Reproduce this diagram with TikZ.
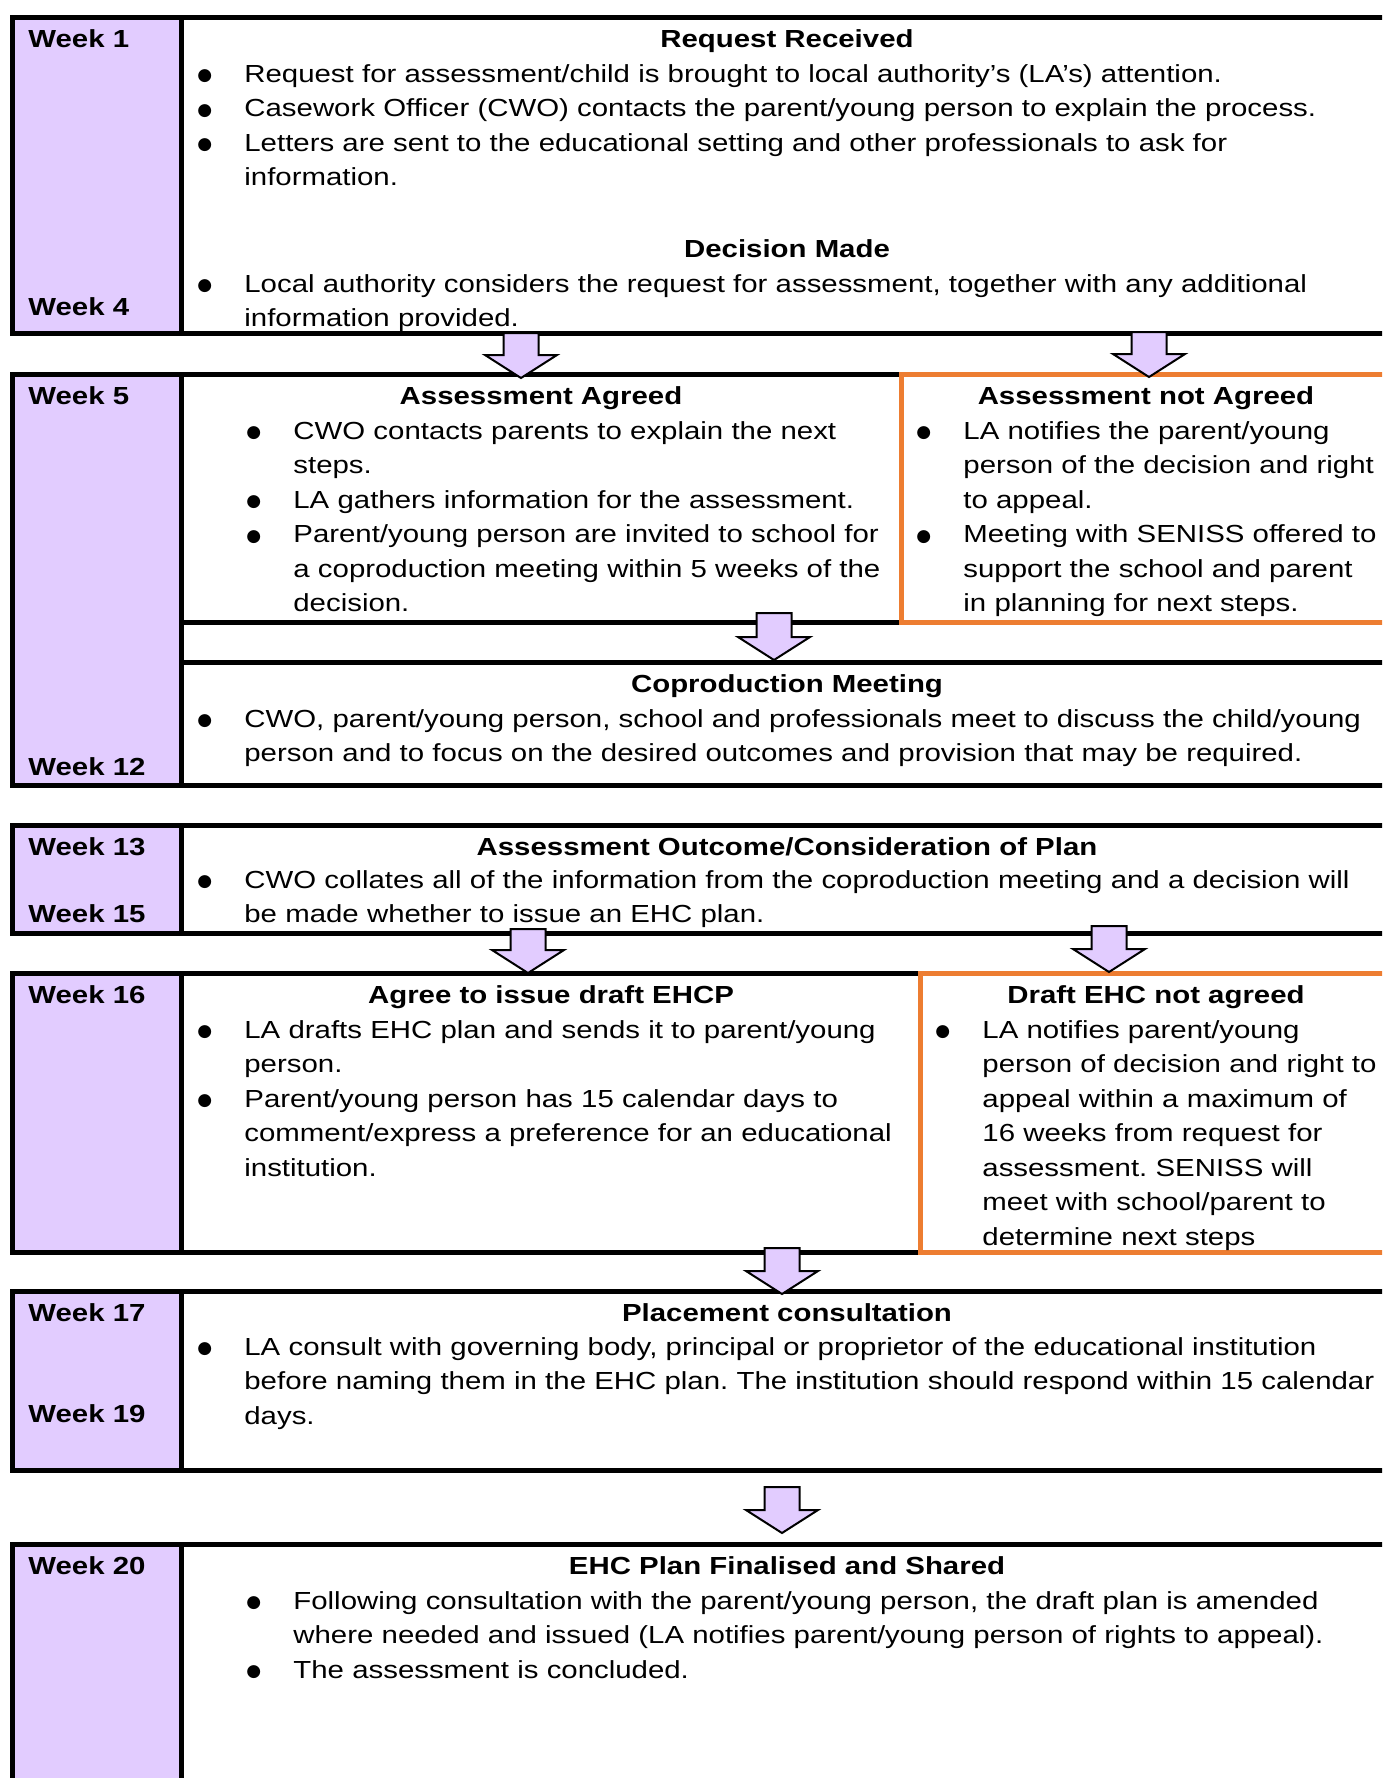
\documentclass[tikz,border=0pt]{standalone}
\usepackage{fontspec}
\setmainfont{Liberation Sans}[FakeStretch=1.19]
\newfontfamily\dotfont{DejaVu Sans}
\usetikzlibrary{calc}
\frenchspacing

\definecolor{weekfill}{RGB}{226,204,255}
\definecolor{ehcorange}{RGB}{237,125,49}
\newcommand\ehcfont{\fontsize{12.35pt}{17.25pt}\selectfont}
\newcommand\bulletmark{\raisebox{0.6pt}{\dotfont\fontsize{8.5pt}{8.5pt}\selectfont ●}}
\newcommand\bul{\noindent\hangindent=23.5pt\hangafter=1\hbox to 23.5pt{\bulletmark\hss}}
\newcommand\nl{\hfil\break}
\newcommand\ehcarrow[2]{%
  \draw[arrowbox] let \p1=(#1), \p2=(#2) in
    (\x1-8.75pt,\y1) -- (\x1+8.75pt,\y1) -- (\x1+8.75pt,\y2+11.5pt) -- (\x1+18pt,\y2+11.5pt)
    -- (\x2,\y2) -- (\x1-18pt,\y2+11.5pt) -- (\x1-8.75pt,\y2+11.5pt) -- cycle;}

\tikzset{
  week/.style={anchor=base west, font=\ehcfont\bfseries, inner sep=0pt},
  head/.style={anchor=base, font=\ehcfont\bfseries, inner sep=0pt},
  items/.style={anchor=base west, font=\ehcfont, inner sep=0pt, text width=620pt, align=left},
  frame/.style={line width=2.5pt},
  sideframe/.style={line width=2.5pt, draw=ehcorange},
  arrowbox/.style={draw, line width=1pt, fill=weekfill, line join=miter},
}

\begin{document}
\begin{tikzpicture}[x=0.5pt, y=-0.5pt]
    \useasboundingbox (0,0) rectangle (1382,1778);
    \clip (0,0) rectangle (1382,1778);

    % week 1 to 4
    \fill[weekfill] (12,17) rectangle (181,333);
    \draw[frame] (1400,17) -- (12,17) -- (12,333) -- (1400,333);
    \draw[frame] (181,17) -- (181,333);
    \node[week] (w1) at (28,47) {Week 1};
    \node[week] (w4) at (28,315) {Week 4};
    \node[head] (hreq) at (787,47) {Request Received};
    \node[items] (treq) at (197,82) {\bul Request for assessment/child is brought to local authority’s (LA’s) attention.\par
        \bul Casework Officer (CWO) contacts the parent/young person to explain the process.\par
        \bul Letters are sent to the educational setting and other professionals to ask for\nl information.\par};
    \node[head] (hdec) at (787,257) {Decision Made};
    \node[items] (tdec) at (197,292) {\bul Local authority considers the request for assessment, together with any additional\nl information provided.\par};

    % week 5 to 12
    \fill[weekfill] (12,374) rectangle (181,785);
    \draw[frame] (901,374) -- (12,374) -- (12,785) -- (1400,785);
    \draw[frame] (181,374) -- (181,785);
    \draw[frame] (181,622) -- (901,622);
    \draw[frame] (181,662) -- (1400,662);
    \draw[sideframe] (1400,374) -- (901,374) -- (901,622) -- (1400,622);
    \node[week] (w5) at (28,404) {Week 5};
    \node[week] (w12) at (28,775) {Week 12};
    \node[head] (hagr) at (541,404) {Assessment Agreed};
    \node[items] (tagr) at (246,439) {\bul CWO contacts parents to explain the next\nl steps.\par
        \bul LA gathers information for the assessment.\par
        \bul Parent/young person are invited to school for\nl a coproduction meeting within 5 weeks of the\nl decision.\par};
    \node[head] (hnot) at (1146,404) {Assessment not Agreed};
    \node[items] (tnot) at (916,439) {\bul LA notifies the parent/young\nl person of the decision and right\nl to appeal.\par
        \bul Meeting with SENISS offered to\nl support the school and parent\nl in planning for next steps.\par};
    \node[head] (hcop) at (787,692) {Coproduction Meeting};
    \node[items] (tcop) at (197,727) {\bul CWO, parent/young person, school and professionals meet to discuss the child/young\nl person and to focus on the desired outcomes and provision that may be required.\par};

    % week 13 to 15
    \fill[weekfill] (12,825) rectangle (181,933);
    \draw[frame] (1400,825) -- (12,825) -- (12,933) -- (1400,933);
    \draw[frame] (181,825) -- (181,933);
    \node[week] (w13) at (28,855) {Week 13};
    \node[week] (w15) at (28,922) {Week 15};
    \node[head] (hout) at (787,855) {Assessment Outcome/Consideration of Plan};
    \node[items] (tout) at (197,888) {\bul CWO collates all of the information from the coproduction meeting and a decision will\nl be made whether to issue an EHC plan.\par};

    % week 16
    \fill[weekfill] (12,973) rectangle (181,1252);
    \draw[frame] (920,973) -- (12,973) -- (12,1252) -- (920,1252);
    \draw[frame] (181,973) -- (181,1252);
    \draw[sideframe] (1400,973) -- (920,973) -- (920,1252) -- (1400,1252);
    \node[week] (w16) at (28,1003) {Week 16};
    \node[head] (hdraft) at (551,1003) {Agree to issue draft EHCP};
    \node[items] (tdraft) at (197,1038) {\bul LA drafts EHC plan and sends it to parent/young\nl person.\par
        \bul Parent/young person has 15 calendar days to\nl comment/express a preference for an educational\nl institution.\par};
    \node[head] (hnodraft) at (1156,1003) {Draft EHC not agreed};
    \node[items] (tnodraft) at (935,1038) {\bul LA notifies parent/young\nl person of decision and right to\nl appeal within a maximum of\nl 16 weeks from request for\nl assessment. SENISS will\nl meet with school/parent to\nl determine next steps\par};

    % week 17 to 19
    \fill[weekfill] (12,1291) rectangle (181,1470);
    \draw[frame] (1400,1291) -- (12,1291) -- (12,1470) -- (1400,1470);
    \draw[frame] (181,1291) -- (181,1470);
    \node[week] (w17) at (28,1321) {Week 17};
    \node[week] (w19) at (28,1422) {Week 19};
    \node[head] (hplace) at (787,1321) {Placement consultation};
    \node[items] (tplace) at (197,1355) {\bul LA consult with governing body, principal or proprietor of the educational institution\nl before naming them in the EHC plan. The institution should respond within 15 calendar\nl days.\par};

    % week 20
    \fill[weekfill] (12,1544) rectangle (181,1800);
    \draw[frame] (1400,1544) -- (12,1544) -- (12,1800);
    \draw[frame] (181,1544) -- (181,1800);
    \node[week] (w20) at (28,1574) {Week 20};
    \node[head] (hfin) at (787,1574) {EHC Plan Finalised and Shared};
    \node[items] (tfin) at (246,1609) {\bul Following consultation with the parent/young person, the draft plan is amended\nl where needed and issued (LA notifies parent/young person of rights to appeal).\par
        \bul The assessment is concluded.\par};

    % arrows between the stages
    \coordinate (a1) at (521,333);  \coordinate (b1) at (521,378);
    \coordinate (a2) at (1149,332); \coordinate (b2) at (1149,377);
    \coordinate (a3) at (774,613);  \coordinate (b3) at (774,660);
    \coordinate (a4) at (528,929);  \coordinate (b4) at (528,973);
    \coordinate (a5) at (1109,926); \coordinate (b5) at (1109,972);
    \coordinate (a6) at (782,1248); \coordinate (b6) at (782,1294);
    \coordinate (a7) at (782,1487); \coordinate (b7) at (782,1533);
    \foreach \i in {1,...,7} {\ehcarrow{a\i}{b\i}}
\end{tikzpicture}
\end{document}
